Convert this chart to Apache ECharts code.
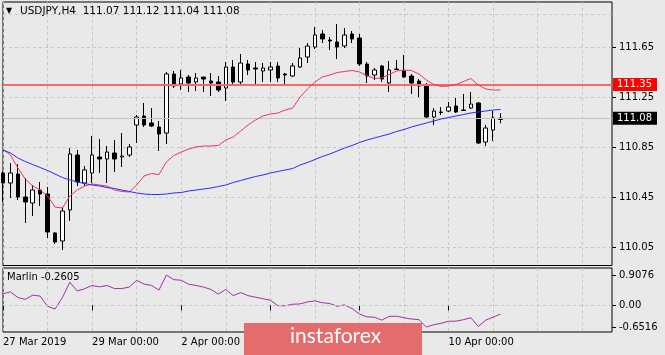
<!DOCTYPE html>
<html>
<head>
<meta charset="utf-8">
<script src="https://cdn.jsdelivr.net/npm/echarts@6/dist/echarts.min.js"></script>
<style>
  html, body { margin: 0; padding: 0; background: #e9e9e9; }
  #chart { width: 665px; height: 355px; }
</style>
</head>
<body>
<div id="chart"></div>
<script>
// USDJPY H4 candles, 27 Mar 00:00 onwards
const opens = [110.642, 110.562, 110.634, 110.450, 110.402, 110.506, 110.474, 110.162, 110.098, 110.346,
    110.786, 110.562, 110.642, 110.770, 110.754, 110.802, 110.770, 110.786, 111.026, 111.098,
    111.042, 111.010, 110.962, 111.434, 111.354, 111.410, 111.370, 111.410, 111.378, 111.370,
    111.322, 111.490, 111.370, 111.514, 111.482, 111.458, 111.466, 111.498, 111.434, 111.418,
    111.490, 111.570, 111.650, 111.754, 111.706, 111.690, 111.658, 111.754, 111.722, 111.514,
    111.426, 111.498, 111.362, 111.474, 111.458, 111.418, 111.378, 111.338, 111.090, 111.130,
    111.138, 111.178, 111.146, 111.162, 111.202, 110.890, 110.986, 111.07];
const closes = [110.562, 110.642, 110.450, 110.410, 110.506, 110.474, 110.170, 110.090, 110.338, 110.794,
    110.570, 110.666, 110.786, 110.754, 110.810, 110.754, 110.778, 110.850, 111.090, 111.026,
    111.018, 110.954, 111.434, 111.338, 111.402, 111.362, 111.402, 111.394, 111.362, 111.306,
    111.490, 111.370, 111.522, 111.466, 111.474, 111.482, 111.490, 111.402, 111.426, 111.498,
    111.562, 111.658, 111.746, 111.714, 111.698, 111.650, 111.746, 111.714, 111.514, 111.418,
    111.466, 111.394, 111.466, 111.470, 111.410, 111.362, 111.338, 111.090, 111.138, 111.126,
    111.170, 111.130, 111.142, 111.194, 110.882, 111.002, 111.082, 111.08];
const lows = [110.410, 110.442, 110.426, 110.242, 110.298, 110.378, 110.122, 110.074, 110.026, 110.258,
    110.538, 110.538, 110.562, 110.642, 110.562, 110.650, 110.690, 110.770, 110.882, 111.010,
    111.010, 110.818, 110.874, 111.322, 111.306, 111.290, 111.298, 111.290, 111.258, 111.290,
    111.218, 111.354, 111.354, 111.426, 111.338, 111.370, 111.370, 111.370, 111.354, 111.410,
    111.482, 111.522, 111.634, 111.682, 111.626, 111.554, 111.642, 111.682, 111.498, 111.362,
    111.386, 111.370, 111.290, 111.470, 111.402, 111.274, 111.250, 111.082, 111.026, 111.106,
    111.130, 111.122, 111.138, 111.154, 110.874, 110.858, 110.898, 111.04];
const highs = [110.658, 110.722, 110.714, 110.602, 110.546, 110.570, 110.530, 110.170, 110.370, 110.842,
    110.826, 110.698, 110.938, 110.914, 110.858, 110.906, 110.962, 110.874, 111.106, 111.202,
    111.162, 111.058, 111.450, 111.458, 111.466, 111.426, 111.442, 111.410, 111.442, 111.418,
    111.530, 111.546, 111.594, 111.546, 111.530, 111.522, 111.530, 111.530, 111.442, 111.522,
    111.642, 111.682, 111.810, 111.786, 111.730, 111.834, 111.802, 111.778, 111.754, 111.530,
    111.482, 111.506, 111.538, 111.546, 111.586, 111.434, 111.394, 111.362, 111.162, 111.170,
    111.210, 111.242, 111.274, 111.290, 111.210, 111.026, 111.138, 111.12];

// moving averages
const fastMA = [110.830, 110.786, 110.682, 110.594, 110.538, 110.506, 110.458, 110.370, 110.362, 110.458,
    110.506, 110.538, 110.554, 110.546, 110.538, 110.506, 110.494, 110.490, 110.546, 110.618,
    110.638, 110.630, 110.730, 110.782, 110.810, 110.834, 110.850, 110.858, 110.858, 110.862,
    110.906, 110.930, 110.978, 111.026, 111.066, 111.098, 111.114, 111.122, 111.146, 111.162,
    111.250, 111.314, 111.370, 111.410, 111.426, 111.446, 111.454, 111.462, 111.450, 111.422,
    111.398, 111.402, 111.430, 111.458, 111.466, 111.462, 111.434, 111.386, 111.350, 111.334,
    111.338, 111.350, 111.374, 111.398, 111.346, 111.314, 111.306, 111.306];
const slowMA = [110.826, 110.802, 110.762, 110.734, 110.710, 110.686, 110.662, 110.634, 110.606, 110.586,
    110.570, 110.558, 110.546, 110.538, 110.526, 110.518, 110.506, 110.494, 110.482, 110.474,
    110.470, 110.470, 110.474, 110.482, 110.486, 110.498, 110.506, 110.514, 110.522, 110.534,
    110.546, 110.566, 110.582, 110.598, 110.614, 110.626, 110.642, 110.654, 110.666, 110.678,
    110.706, 110.726, 110.750, 110.774, 110.794, 110.818, 110.842, 110.862, 110.886, 110.906,
    110.922, 110.938, 110.954, 110.974, 110.990, 111.010, 111.026, 111.042, 111.058, 111.074,
    111.086, 111.098, 111.110, 111.122, 111.130, 111.138, 111.146, 111.150];

// Marlin oscillator
const marlin = [0.346, 0.402, 0.235, 0.180, 0.305, 0.277, -0.028, -0.111, 0.235, 0.693,
    0.429, 0.499, 0.596, 0.554, 0.596, 0.504, 0.504, 0.548, 0.748, 0.637,
    0.596, 0.457, 0.9076, 0.770, 0.753, 0.632, 0.596, 0.548, 0.476, 0.338,
    0.476, 0.291, 0.382, 0.291, 0.244, 0.199, 0.152, -0.006, -0.014, 0.033,
    0.042, 0.105, 0.133, 0.078, 0.055, -0.028, 0.014, -0.097, -0.263, -0.346,
    -0.355, -0.443, -0.332, -0.327, -0.374, -0.410, -0.429, -0.6516, -0.582, -0.540,
    -0.476, -0.476, -0.429, -0.374, -0.635, -0.443, -0.355, -0.2605];

const priceTicks = [110.05, 110.45, 110.85, 111.25, 111.65];
const marlinTicks = [-0.6516, 0, 0.9076];
const dayLabels = ['27 Mar 2019', '29 Mar 00:00', '2 Apr 00:00', '4 Apr 00:00', '8 Apr 00:00', '10 Apr 00:00'];
const levelPrice = 111.35;
const lastPrice = 111.08;

const font = 'DejaVu Sans';
const barCount = opens.length;
const shiftBars = 15;
const slots = Array.from({length: barCount + shiftBars}, (_, i) => String(i));
const candles = opens.map((o, i) => [o, closes[i], lows[i], highs[i]]);

const gridDash = {color: '#c6c6c6', type: [3, 3], width: 1};
const isDay = (index) => index % 12 === 0 && index < barCount;

let chart = echarts.init(document.getElementById('chart'));
chart.setOption({
    animation: false,
    backgroundColor: '#e9e9e9',
    grid: [
        {left: 3, top: 2, width: 609, height: 263.5, show: true, borderColor: '#000', borderWidth: 1},
        {left: 3, top: 268, width: 609, height: 64, show: true, borderColor: '#000', borderWidth: 1}
    ],
    xAxis: [
        {
            gridIndex: 0, type: 'category', data: slots, boundaryGap: false,
            axisLine: {show: false}, axisTick: {show: false}, axisLabel: {show: false},
            splitLine: {show: true, interval: (i) => i % 6 === 0, lineStyle: gridDash}
        },
        {
            gridIndex: 1, type: 'category', data: slots, boundaryGap: false,
            axisLine: {show: false},
            axisTick: {show: true, interval: isDay, length: 5, lineStyle: {color: '#000'}},
            axisLabel: {
                show: true, interval: isDay, align: 'left', margin: 5,
                color: '#000', fontSize: 10, fontFamily: font,
                formatter: (v, index) => dayLabels[index / 12]
            },
            splitLine: {show: true, interval: (i) => i % 6 === 0, lineStyle: gridDash}
        }
    ],
    yAxis: [
        {
            gridIndex: 0, type: 'value', position: 'right', min: 109.902, max: 112.01,
            axisLine: {show: false},
            axisTick: {show: true, length: 4, customValues: priceTicks, lineStyle: {color: '#000'}},
            axisLabel: {customValues: priceTicks, formatter: (v) => v.toFixed(2), margin: 7,
                color: '#000', fontSize: 10, fontFamily: font},
            splitLine: {show: true, lineStyle: gridDash}
        },
        {
            gridIndex: 1, type: 'value', position: 'right', min: -0.80, max: 1.12,
            axisLine: {show: false},
            axisTick: {show: true, length: 4, customValues: marlinTicks, lineStyle: {color: '#000'}},
            axisLabel: {customValues: marlinTicks, formatter: (v) => v === 0 ? '0.00' : String(v),
                margin: 7, color: '#000', fontSize: 10, fontFamily: font},
            splitLine: {show: false}
        }
    ],
    series: [
        {
            type: 'candlestick',
            xAxisIndex: 0, yAxisIndex: 0,
            data: candles,
            barWidth: 4,
            itemStyle: {color: '#fff', color0: '#000', borderColor: '#000', borderColor0: '#000', borderWidth: 1},
            markLine: {
                silent: true, symbol: ['none', 'none'], animation: false,
                data: [
                    {yAxis: 111.914, lineStyle: gridDash, label: {show: false}},
                    {
                        yAxis: lastPrice, lineStyle: {color: '#c2c2c2', width: 1, type: 'solid'},
                        label: {show: true, position: 'end', distance: 1, formatter: lastPrice.toFixed(2),
                            backgroundColor: '#000', color: '#fff', padding: [2, 5, 1, 4],
                            fontSize: 10, fontFamily: font}
                    },
                    {
                        yAxis: levelPrice, lineStyle: {color: '#f26a6a', width: 2, type: 'solid'},
                        label: {show: true, position: 'end', distance: 1, formatter: levelPrice.toFixed(2),
                            backgroundColor: '#ff0000', color: '#fff', padding: [2, 5, 1, 4],
                            fontSize: 10, fontFamily: font}
                    }
                ]
            }
        },
        {
            type: 'line', xAxisIndex: 0, yAxisIndex: 0, data: fastMA,
            symbol: 'none', lineStyle: {color: '#e8385e', width: 1}, z: 5
        },
        {
            type: 'line', xAxisIndex: 0, yAxisIndex: 0, data: slowMA,
            symbol: 'none', lineStyle: {color: '#2a2aff', width: 1}, z: 5
        },
        {
            type: 'line', xAxisIndex: 1, yAxisIndex: 1, data: marlin,
            symbol: 'none', lineStyle: {color: '#a030a8', width: 1},
            markLine: {
                silent: true, symbol: ['none', 'none'], animation: false,
                data: [{yAxis: 0, lineStyle: gridDash, label: {show: false}}]
            }
        }
    ],
    graphic: [
        {type: 'text', left: 6, top: 7, z: 100,
            style: {text: '\u25BC', fill: '#000', font: '8px "DejaVu Sans"'}},
        {type: 'text', left: 20, top: 6, z: 100,
            style: {text: 'USDJPY,H4  111.07 111.12 111.04 111.08', fill: '#000', font: '10.5px "DejaVu Sans"'}},
        {type: 'text', left: 7, top: 272, z: 100,
            style: {text: 'Marlin -0.2605', fill: '#000', font: '10px "DejaVu Sans"'}},
        {type: 'rect', z: 100, shape: {x: 244, y: 323, width: 178, height: 33},
            style: {fill: '#e46c6c'}},
        {type: 'text', left: 290, top: 326, z: 101,
            style: {text: 'instaforex', fill: '#fff', font: '21px Lato'}}
    ]
});
</script>
</body>
</html>
